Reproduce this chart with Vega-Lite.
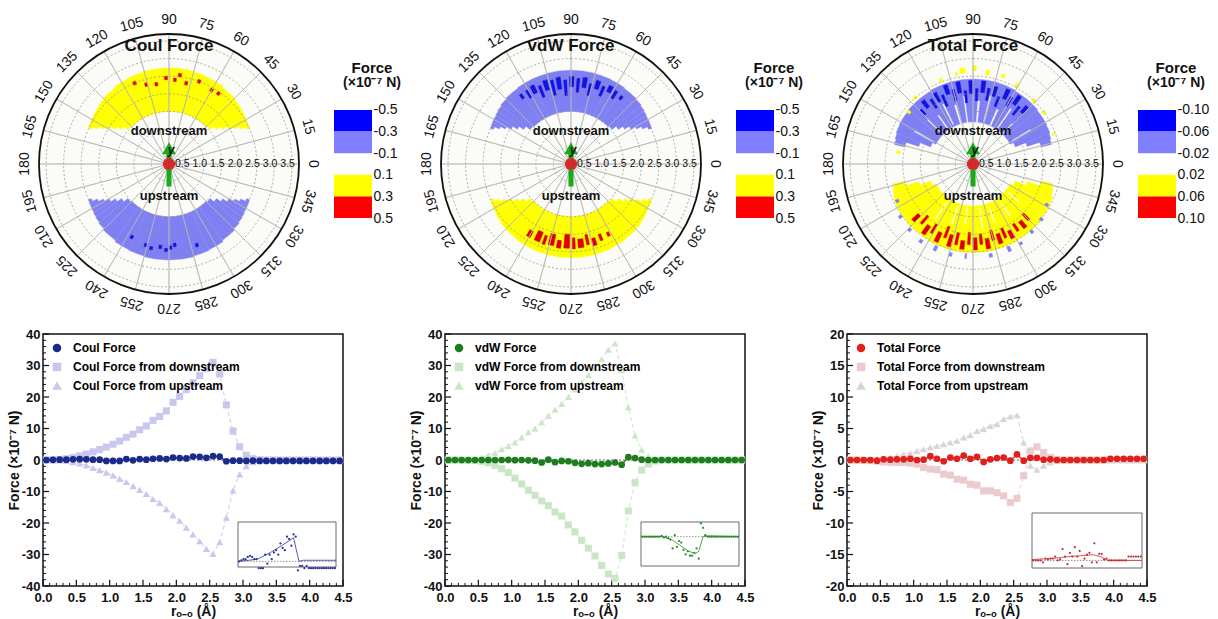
{
"$schema":"https://vega.github.io/schema/vega-lite/v6.json",
"padding":{"left":6,"top":9,"right":2,"bottom":1},
"background":"white",
"config":{"font":"Liberation Sans","view":{"stroke":null},"axis":{"labelFont":"Liberation Sans","titleFont":"Liberation Sans","labelColor":"#111","titleColor":"#111","tickColor":"#111","grid":false,"domain":false},"legend":{"labelFont":"Liberation Sans"},"text":{"font":"Liberation Sans","color":"#111"}},
"datasets":{
"rings":[{"r":0.5},{"r":1},{"r":1.5},{"r":2},{"r":2.5},{"r":3},{"r":3.5}],
"spokes":[{"a":0},{"a":15},{"a":30},{"a":45},{"a":60},{"a":75},{"a":90},{"a":105},{"a":120},{"a":135},{"a":150},{"a":165},{"a":180},{"a":195},{"a":210},{"a":225},{"a":240},{"a":255},{"a":270},{"a":285},{"a":300},{"a":315},{"a":330},{"a":345}],
"rlab":[{"r":0.5,"l":"0.5"},{"r":1,"l":"1.0"},{"r":1.5,"l":"1.5"},{"r":2,"l":"2.0"},{"r":2.5,"l":"2.5"},{"r":3,"l":"3.0"},{"r":3.5,"l":"3.5"}],
"xmaj":[{"v":0},{"v":0.5},{"v":1},{"v":1.5},{"v":2},{"v":2.5},{"v":3},{"v":3.5},{"v":4},{"v":4.5}],
"xmin":[{"v":0.1},{"v":0.2},{"v":0.3},{"v":0.4},{"v":0.6},{"v":0.7},{"v":0.8},{"v":0.9},{"v":1.1},{"v":1.2},{"v":1.3},{"v":1.4},{"v":1.6},{"v":1.7},{"v":1.8},{"v":1.9},{"v":2.1},{"v":2.2},{"v":2.3},{"v":2.4},{"v":2.6},{"v":2.7},{"v":2.8},{"v":2.9},{"v":3.1},{"v":3.2},{"v":3.3},{"v":3.4},{"v":3.6},{"v":3.7},{"v":3.8},{"v":3.9},{"v":4.1},{"v":4.2},{"v":4.3},{"v":4.4}],
"ymaj40":[{"v":-40},{"v":-30},{"v":-20},{"v":-10},{"v":0},{"v":10},{"v":20},{"v":30},{"v":40}],
"ymin40":[{"v":-38},{"v":-36},{"v":-34},{"v":-32},{"v":-28},{"v":-26},{"v":-24},{"v":-22},{"v":-18},{"v":-16},{"v":-14},{"v":-12},{"v":-8},{"v":-6},{"v":-4},{"v":-2},{"v":2},{"v":4},{"v":6},{"v":8},{"v":12},{"v":14},{"v":16},{"v":18},{"v":22},{"v":24},{"v":26},{"v":28},{"v":32},{"v":34},{"v":36},{"v":38}],
"ymaj20":[{"v":-20},{"v":-15},{"v":-10},{"v":-5},{"v":0},{"v":5},{"v":10},{"v":15},{"v":20}],
"ymin20":[{"v":-19},{"v":-18},{"v":-17},{"v":-16},{"v":-14},{"v":-13},{"v":-12},{"v":-11},{"v":-9},{"v":-8},{"v":-7},{"v":-6},{"v":-4},{"v":-3},{"v":-2},{"v":-1},{"v":1},{"v":2},{"v":3},{"v":4},{"v":6},{"v":7},{"v":8},{"v":9},{"v":11},{"v":12},{"v":13},{"v":14},{"v":16},{"v":17},{"v":18},{"v":19}],
"cells":[
{"p":"C","t1":24,"t2":26,"r1":2.42,"r2":2.51,"lv":1},{"p":"C","t1":26,"t2":28,"r1":2.27,"r2":2.52,"lv":1},{"p":"C","t1":28,"t2":30,"r1":2.12,"r2":2.53,"lv":1},{"p":"C","t1":30,"t2":33,"r1":1.97,"r2":2.54,"lv":1},{"p":"C","t1":33,"t2":36,"r1":1.82,"r2":2.56,"lv":1},{"p":"C","t1":36,"t2":40,"r1":1.67,"r2":2.58,"lv":1},{"p":"C","t1":40,"t2":45,"r1":1.53,"r2":2.61,"lv":1},{"p":"C","t1":45,"t2":55,"r1":1.5,"r2":2.65,"lv":1},{"p":"C","t1":55,"t2":65,"r1":1.5,"r2":2.69,"lv":1},{"p":"C","t1":65,"t2":75,"r1":1.5,"r2":2.71,"lv":1},{"p":"C","t1":75,"t2":105,"r1":1.5,"r2":2.73,"lv":1},{"p":"C","t1":105,"t2":115,"r1":1.5,"r2":2.71,"lv":1},{"p":"C","t1":115,"t2":125,"r1":1.5,"r2":2.69,"lv":1},{"p":"C","t1":125,"t2":135,"r1":1.5,"r2":2.65,"lv":1},{"p":"C","t1":135,"t2":140,"r1":1.53,"r2":2.61,"lv":1},{"p":"C","t1":140,"t2":144,"r1":1.67,"r2":2.58,"lv":1},{"p":"C","t1":144,"t2":147,"r1":1.82,"r2":2.56,"lv":1},{"p":"C","t1":147,"t2":150,"r1":1.97,"r2":2.54,"lv":1},{"p":"C","t1":150,"t2":152,"r1":2.12,"r2":2.53,"lv":1},{"p":"C","t1":152,"t2":154,"r1":2.27,"r2":2.52,"lv":1},{"p":"C","t1":154,"t2":156,"r1":2.42,"r2":2.51,"lv":1},
{"p":"C","t1":334,"t2":336,"r1":2.42,"r2":2.51,"lv":-1},{"p":"C","t1":332,"t2":334,"r1":2.27,"r2":2.52,"lv":-1},{"p":"C","t1":330,"t2":332,"r1":2.12,"r2":2.53,"lv":-1},{"p":"C","t1":327,"t2":330,"r1":1.97,"r2":2.54,"lv":-1},{"p":"C","t1":324,"t2":327,"r1":1.82,"r2":2.56,"lv":-1},{"p":"C","t1":320,"t2":324,"r1":1.67,"r2":2.58,"lv":-1},{"p":"C","t1":315,"t2":320,"r1":1.53,"r2":2.61,"lv":-1},{"p":"C","t1":305,"t2":315,"r1":1.5,"r2":2.65,"lv":-1},{"p":"C","t1":295,"t2":305,"r1":1.5,"r2":2.69,"lv":-1},{"p":"C","t1":285,"t2":295,"r1":1.5,"r2":2.71,"lv":-1},{"p":"C","t1":255,"t2":285,"r1":1.5,"r2":2.73,"lv":-1},{"p":"C","t1":245,"t2":255,"r1":1.5,"r2":2.71,"lv":-1},{"p":"C","t1":235,"t2":245,"r1":1.5,"r2":2.69,"lv":-1},{"p":"C","t1":225,"t2":235,"r1":1.5,"r2":2.65,"lv":-1},{"p":"C","t1":220,"t2":225,"r1":1.53,"r2":2.61,"lv":-1},{"p":"C","t1":216,"t2":220,"r1":1.67,"r2":2.58,"lv":-1},{"p":"C","t1":213,"t2":216,"r1":1.82,"r2":2.56,"lv":-1},{"p":"C","t1":210,"t2":213,"r1":1.97,"r2":2.54,"lv":-1},{"p":"C","t1":208,"t2":210,"r1":2.12,"r2":2.53,"lv":-1},{"p":"C","t1":206,"t2":208,"r1":2.27,"r2":2.52,"lv":-1},{"p":"C","t1":204,"t2":206,"r1":2.42,"r2":2.51,"lv":-1},
{"p":"C","t1":105,"t2":107,"r1":2.3,"r2":2.4,"lv":2},{"p":"C","t1":98,"t2":100,"r1":2.25,"r2":2.35,"lv":2},{"p":"C","t1":91,"t2":93,"r1":2.4,"r2":2.5,"lv":2},{"p":"C","t1":85,"t2":87,"r1":2.35,"r2":2.45,"lv":2},{"p":"C","t1":77,"t2":79,"r1":2.3,"r2":2.4,"lv":2},{"p":"C","t1":69,"t2":71,"r1":2.45,"r2":2.55,"lv":2},{"p":"C","t1":59,"t2":61,"r1":2.38,"r2":2.48,"lv":2},{"p":"C","t1":54,"t2":56,"r1":2.4,"r2":2.5,"lv":2},{"p":"C","t1":112,"t2":114,"r1":2.45,"r2":2.55,"lv":2},{"p":"C","t1":82,"t2":84,"r1":2.5,"r2":2.6,"lv":2},
{"p":"C","t1":242,"t2":244,"r1":2.28,"r2":2.38,"lv":-2},{"p":"C","t1":253,"t2":255,"r1":2.35,"r2":2.45,"lv":-2},{"p":"C","t1":257,"t2":259,"r1":2.4,"r2":2.5,"lv":-2},{"p":"C","t1":263,"t2":265,"r1":2.32,"r2":2.42,"lv":-2},{"p":"C","t1":267,"t2":269,"r1":2.4,"r2":2.5,"lv":-2},{"p":"C","t1":270,"t2":272,"r1":2.33,"r2":2.43,"lv":-2},{"p":"C","t1":273,"t2":275,"r1":2.26,"r2":2.36,"lv":-2},{"p":"C","t1":288,"t2":290,"r1":2.39,"r2":2.49,"lv":-2},
{"p":"V","t1":24,"t2":26,"r1":2.42,"r2":2.51,"lv":-1},{"p":"V","t1":26,"t2":28,"r1":2.27,"r2":2.52,"lv":-1},{"p":"V","t1":28,"t2":30,"r1":2.12,"r2":2.53,"lv":-1},{"p":"V","t1":30,"t2":33,"r1":1.97,"r2":2.54,"lv":-1},{"p":"V","t1":33,"t2":36,"r1":1.82,"r2":2.56,"lv":-1},{"p":"V","t1":36,"t2":40,"r1":1.67,"r2":2.58,"lv":-1},{"p":"V","t1":40,"t2":45,"r1":1.53,"r2":2.61,"lv":-1},{"p":"V","t1":45,"t2":55,"r1":1.5,"r2":2.63,"lv":-1},{"p":"V","t1":55,"t2":65,"r1":1.5,"r2":2.65,"lv":-1},{"p":"V","t1":65,"t2":75,"r1":1.5,"r2":2.66,"lv":-1},{"p":"V","t1":75,"t2":105,"r1":1.5,"r2":2.67,"lv":-1},{"p":"V","t1":105,"t2":115,"r1":1.5,"r2":2.66,"lv":-1},{"p":"V","t1":115,"t2":125,"r1":1.5,"r2":2.65,"lv":-1},{"p":"V","t1":125,"t2":135,"r1":1.5,"r2":2.63,"lv":-1},{"p":"V","t1":135,"t2":140,"r1":1.53,"r2":2.61,"lv":-1},{"p":"V","t1":140,"t2":144,"r1":1.67,"r2":2.58,"lv":-1},{"p":"V","t1":144,"t2":147,"r1":1.82,"r2":2.56,"lv":-1},{"p":"V","t1":147,"t2":150,"r1":1.97,"r2":2.54,"lv":-1},{"p":"V","t1":150,"t2":152,"r1":2.12,"r2":2.53,"lv":-1},{"p":"V","t1":152,"t2":154,"r1":2.27,"r2":2.52,"lv":-1},{"p":"V","t1":154,"t2":156,"r1":2.42,"r2":2.51,"lv":-1},
{"p":"V","t1":334,"t2":336,"r1":2.42,"r2":2.51,"lv":1},{"p":"V","t1":332,"t2":334,"r1":2.27,"r2":2.52,"lv":1},{"p":"V","t1":330,"t2":332,"r1":2.12,"r2":2.53,"lv":1},{"p":"V","t1":327,"t2":330,"r1":1.97,"r2":2.54,"lv":1},{"p":"V","t1":324,"t2":327,"r1":1.82,"r2":2.56,"lv":1},{"p":"V","t1":320,"t2":324,"r1":1.67,"r2":2.58,"lv":1},{"p":"V","t1":315,"t2":320,"r1":1.53,"r2":2.61,"lv":1},{"p":"V","t1":305,"t2":315,"r1":1.5,"r2":2.63,"lv":1},{"p":"V","t1":295,"t2":305,"r1":1.5,"r2":2.65,"lv":1},{"p":"V","t1":285,"t2":295,"r1":1.5,"r2":2.66,"lv":1},{"p":"V","t1":255,"t2":285,"r1":1.5,"r2":2.67,"lv":1},{"p":"V","t1":245,"t2":255,"r1":1.5,"r2":2.66,"lv":1},{"p":"V","t1":235,"t2":245,"r1":1.5,"r2":2.65,"lv":1},{"p":"V","t1":225,"t2":235,"r1":1.5,"r2":2.63,"lv":1},{"p":"V","t1":220,"t2":225,"r1":1.53,"r2":2.61,"lv":1},{"p":"V","t1":216,"t2":220,"r1":1.67,"r2":2.58,"lv":1},{"p":"V","t1":213,"t2":216,"r1":1.82,"r2":2.56,"lv":1},{"p":"V","t1":210,"t2":213,"r1":1.97,"r2":2.54,"lv":1},{"p":"V","t1":208,"t2":210,"r1":2.12,"r2":2.53,"lv":1},{"p":"V","t1":206,"t2":208,"r1":2.27,"r2":2.52,"lv":1},{"p":"V","t1":204,"t2":206,"r1":2.42,"r2":2.51,"lv":1},
{"p":"V","t1":52,"t2":54,"r1":2.3,"r2":2.42,"lv":-2},{"p":"V","t1":57,"t2":59,"r1":2.2,"r2":2.45,"lv":-2},{"p":"V","t1":61,"t2":64,"r1":2.3,"r2":2.5,"lv":-2},{"p":"V","t1":66,"t2":68,"r1":2.1,"r2":2.4,"lv":-2},{"p":"V","t1":70,"t2":73,"r1":2.25,"r2":2.5,"lv":-2},{"p":"V","t1":75,"t2":77,"r1":2.0,"r2":2.35,"lv":-2},{"p":"V","t1":79,"t2":82,"r1":2.2,"r2":2.5,"lv":-2},{"p":"V","t1":84,"t2":86,"r1":2.05,"r2":2.45,"lv":-2},{"p":"V","t1":88,"t2":91,"r1":2.2,"r2":2.5,"lv":-2},{"p":"V","t1":93,"t2":95,"r1":1.95,"r2":2.4,"lv":-2},{"p":"V","t1":97,"t2":100,"r1":2.15,"r2":2.5,"lv":-2},{"p":"V","t1":102,"t2":104,"r1":2.0,"r2":2.45,"lv":-2},{"p":"V","t1":106,"t2":109,"r1":2.2,"r2":2.5,"lv":-2},{"p":"V","t1":111,"t2":113,"r1":2.05,"r2":2.4,"lv":-2},{"p":"V","t1":115,"t2":118,"r1":2.25,"r2":2.5,"lv":-2},{"p":"V","t1":120,"t2":122,"r1":2.2,"r2":2.45,"lv":-2},{"p":"V","t1":125,"t2":127,"r1":2.3,"r2":2.45,"lv":-2},
{"p":"V","t1":238,"t2":241,"r1":2.2,"r2":2.4,"lv":2},{"p":"V","t1":244,"t2":248,"r1":2.1,"r2":2.4,"lv":2},{"p":"V","t1":250,"t2":252,"r1":2.15,"r2":2.42,"lv":2},{"p":"V","t1":254,"t2":258,"r1":2.05,"r2":2.38,"lv":2},{"p":"V","t1":260,"t2":263,"r1":2.2,"r2":2.42,"lv":2},{"p":"V","t1":265,"t2":269,"r1":2.0,"r2":2.4,"lv":2},{"p":"V","t1":271,"t2":273,"r1":2.1,"r2":2.42,"lv":2},{"p":"V","t1":275,"t2":279,"r1":2.15,"r2":2.4,"lv":2},{"p":"V","t1":281,"t2":283,"r1":2.05,"r2":2.35,"lv":2},{"p":"V","t1":285,"t2":288,"r1":2.2,"r2":2.42,"lv":2},{"p":"V","t1":291,"t2":293,"r1":2.15,"r2":2.35,"lv":2},{"p":"V","t1":297,"t2":299,"r1":2.2,"r2":2.32,"lv":2},
{"p":"T","t1":14,"t2":18,"r1":2.0,"r2":2.3,"lv":-1},{"p":"T","t1":18,"t2":22,"r1":1.62,"r2":2.33,"lv":-1},{"p":"T","t1":22,"t2":28,"r1":1.3,"r2":2.36,"lv":-1},{"p":"T","t1":28,"t2":40,"r1":1.2,"r2":2.38,"lv":-1},{"p":"T","t1":40,"t2":60,"r1":1.2,"r2":2.4,"lv":-1},{"p":"T","t1":60,"t2":120,"r1":1.2,"r2":2.42,"lv":-1},{"p":"T","t1":120,"t2":140,"r1":1.2,"r2":2.4,"lv":-1},{"p":"T","t1":140,"t2":152,"r1":1.2,"r2":2.38,"lv":-1},{"p":"T","t1":152,"t2":158,"r1":1.3,"r2":2.36,"lv":-1},{"p":"T","t1":158,"t2":162,"r1":1.62,"r2":2.33,"lv":-1},{"p":"T","t1":162,"t2":166,"r1":2.0,"r2":2.3,"lv":-1},
{"p":"T","t1":194,"t2":198,"r1":2.0,"r2":2.35,"lv":1},{"p":"T","t1":198,"t2":202,"r1":1.62,"r2":2.4,"lv":1},{"p":"T","t1":202,"t2":208,"r1":1.3,"r2":2.45,"lv":1},{"p":"T","t1":208,"t2":220,"r1":1.2,"r2":2.48,"lv":1},{"p":"T","t1":220,"t2":240,"r1":1.2,"r2":2.5,"lv":1},{"p":"T","t1":240,"t2":300,"r1":1.2,"r2":2.52,"lv":1},{"p":"T","t1":300,"t2":320,"r1":1.2,"r2":2.5,"lv":1},{"p":"T","t1":320,"t2":332,"r1":1.2,"r2":2.48,"lv":1},{"p":"T","t1":332,"t2":338,"r1":1.3,"r2":2.45,"lv":1},{"p":"T","t1":338,"t2":342,"r1":1.62,"r2":2.4,"lv":1},{"p":"T","t1":342,"t2":346,"r1":2.0,"r2":2.35,"lv":1},
{"p":"T","t1":45,"t2":46,"r1":1.2,"r2":1.6,"lv":0},{"p":"T","t1":55,"t2":56,"r1":1.2,"r2":1.9,"lv":0},{"p":"T","t1":65,"t2":66.5,"r1":1.2,"r2":1.7,"lv":0},{"p":"T","t1":75,"t2":76,"r1":1.25,"r2":2.0,"lv":0},{"p":"T","t1":84,"t2":85.5,"r1":1.2,"r2":1.8,"lv":0},{"p":"T","t1":97,"t2":98,"r1":1.2,"r2":1.95,"lv":0},{"p":"T","t1":106,"t2":107.5,"r1":1.2,"r2":1.75,"lv":0},{"p":"T","t1":116,"t2":117,"r1":1.25,"r2":1.9,"lv":0},{"p":"T","t1":125,"t2":126,"r1":1.2,"r2":1.7,"lv":0},{"p":"T","t1":135,"t2":136,"r1":1.3,"r2":1.8,"lv":0},{"p":"T","t1":30,"t2":31,"r1":1.3,"r2":1.9,"lv":0},{"p":"T","t1":150,"t2":151,"r1":1.3,"r2":1.9,"lv":0},
{"p":"T","t1":235,"t2":236,"r1":1.3,"r2":1.9,"lv":0},{"p":"T","t1":250,"t2":251,"r1":1.25,"r2":1.8,"lv":0},{"p":"T","t1":262,"t2":263,"r1":1.25,"r2":1.7,"lv":0},{"p":"T","t1":278,"t2":279,"r1":1.25,"r2":1.85,"lv":0},{"p":"T","t1":290,"t2":291,"r1":1.3,"r2":1.75,"lv":0},{"p":"T","t1":305,"t2":306,"r1":1.3,"r2":1.8,"lv":0},{"p":"T","t1":320,"t2":321,"r1":1.3,"r2":1.7,"lv":0},
{"p":"T","t1":35,"t2":37,"r1":2.45,"r2":2.55,"lv":1},{"p":"T","t1":45,"t2":47,"r1":2.45,"r2":2.55,"lv":1},{"p":"T","t1":60,"t2":62,"r1":2.5,"r2":2.62,"lv":1},{"p":"T","t1":70,"t2":72,"r1":2.6,"r2":2.7,"lv":1},{"p":"T","t1":80,"t2":82,"r1":2.55,"r2":2.7,"lv":1},{"p":"T","t1":88,"t2":90,"r1":2.65,"r2":2.8,"lv":1},{"p":"T","t1":95,"t2":98,"r1":2.6,"r2":2.75,"lv":1},{"p":"T","t1":100,"t2":101,"r1":2.55,"r2":2.65,"lv":1},{"p":"T","t1":110,"t2":112,"r1":2.5,"r2":2.6,"lv":1},{"p":"T","t1":130,"t2":132,"r1":2.45,"r2":2.55,"lv":1},{"p":"T","t1":140,"t2":142,"r1":2.3,"r2":2.4,"lv":1},{"p":"T","t1":20,"t2":21,"r1":2.4,"r2":2.5,"lv":1},{"p":"T","t1":170,"t2":172,"r1":2.1,"r2":2.2,"lv":1},
{"p":"T","t1":215,"t2":217,"r1":2.5,"r2":2.6,"lv":-1},{"p":"T","t1":225,"t2":227,"r1":2.55,"r2":2.65,"lv":-1},{"p":"T","t1":235,"t2":237,"r1":2.6,"r2":2.7,"lv":-1},{"p":"T","t1":245,"t2":247,"r1":2.55,"r2":2.7,"lv":-1},{"p":"T","t1":255,"t2":257,"r1":2.6,"r2":2.7,"lv":-1},{"p":"T","t1":265,"t2":266,"r1":2.55,"r2":2.7,"lv":-1},{"p":"T","t1":280,"t2":282,"r1":2.6,"r2":2.7,"lv":-1},{"p":"T","t1":292,"t2":294,"r1":2.55,"r2":2.7,"lv":-1},{"p":"T","t1":300,"t2":302,"r1":2.6,"r2":2.68,"lv":-1},{"p":"T","t1":310,"t2":312,"r1":2.5,"r2":2.6,"lv":-1},{"p":"T","t1":320,"t2":322,"r1":2.45,"r2":2.55,"lv":-1},{"p":"T","t1":330,"t2":332,"r1":2.35,"r2":2.45,"lv":-1},{"p":"T","t1":205,"t2":207,"r1":2.35,"r2":2.45,"lv":-1},
{"p":"T","t1":45,"t2":48,"r1":2.0,"r2":2.25,"lv":-2},{"p":"T","t1":50,"t2":52,"r1":1.8,"r2":2.1,"lv":-2},{"p":"T","t1":54,"t2":57,"r1":2.05,"r2":2.35,"lv":-2},{"p":"T","t1":59,"t2":61,"r1":1.9,"r2":2.2,"lv":-2},{"p":"T","t1":63,"t2":66,"r1":2.05,"r2":2.35,"lv":-2},{"p":"T","t1":68,"t2":70,"r1":1.75,"r2":2.05,"lv":-2},{"p":"T","t1":72,"t2":75,"r1":2.0,"r2":2.3,"lv":-2},{"p":"T","t1":77,"t2":79,"r1":1.85,"r2":2.2,"lv":-2},{"p":"T","t1":81,"t2":84,"r1":2.05,"r2":2.38,"lv":-2},{"p":"T","t1":86,"t2":88,"r1":1.8,"r2":2.15,"lv":-2},{"p":"T","t1":90,"t2":93,"r1":2.0,"r2":2.38,"lv":-2},{"p":"T","t1":95,"t2":97,"r1":1.75,"r2":2.1,"lv":-2},{"p":"T","t1":99,"t2":102,"r1":2.05,"r2":2.38,"lv":-2},{"p":"T","t1":104,"t2":106,"r1":1.85,"r2":2.2,"lv":-2},{"p":"T","t1":108,"t2":111,"r1":2.1,"r2":2.38,"lv":-2},{"p":"T","t1":113,"t2":115,"r1":1.8,"r2":2.15,"lv":-2},{"p":"T","t1":117,"t2":120,"r1":2.0,"r2":2.3,"lv":-2},{"p":"T","t1":122,"t2":124,"r1":1.9,"r2":2.2,"lv":-2},{"p":"T","t1":127,"t2":130,"r1":2.05,"r2":2.3,"lv":-2},{"p":"T","t1":133,"t2":135,"r1":1.95,"r2":2.15,"lv":-2},
{"p":"T","t1":222,"t2":225,"r1":2.1,"r2":2.35,"lv":2},{"p":"T","t1":228,"t2":230,"r1":1.95,"r2":2.25,"lv":2},{"p":"T","t1":233,"t2":236,"r1":2.15,"r2":2.45,"lv":2},{"p":"T","t1":238,"t2":240,"r1":2.0,"r2":2.3,"lv":2},{"p":"T","t1":243,"t2":246,"r1":2.15,"r2":2.45,"lv":2},{"p":"T","t1":248,"t2":250,"r1":1.9,"r2":2.25,"lv":2},{"p":"T","t1":252,"t2":255,"r1":2.1,"r2":2.45,"lv":2},{"p":"T","t1":257,"t2":259,"r1":2.0,"r2":2.35,"lv":2},{"p":"T","t1":261,"t2":264,"r1":2.2,"r2":2.45,"lv":2},{"p":"T","t1":266,"t2":268,"r1":1.95,"r2":2.3,"lv":2},{"p":"T","t1":270,"t2":273,"r1":2.1,"r2":2.45,"lv":2},{"p":"T","t1":275,"t2":277,"r1":2.0,"r2":2.3,"lv":2},{"p":"T","t1":279,"t2":282,"r1":2.15,"r2":2.45,"lv":2},{"p":"T","t1":284,"t2":286,"r1":1.95,"r2":2.25,"lv":2},{"p":"T","t1":288,"t2":291,"r1":2.1,"r2":2.4,"lv":2},{"p":"T","t1":293,"t2":295,"r1":2.0,"r2":2.3,"lv":2},{"p":"T","t1":297,"t2":300,"r1":2.15,"r2":2.4,"lv":2},{"p":"T","t1":303,"t2":305,"r1":2.05,"r2":2.3,"lv":2},{"p":"T","t1":308,"t2":311,"r1":2.1,"r2":2.35,"lv":2},{"p":"T","t1":314,"t2":316,"r1":2.0,"r2":2.25,"lv":2}
],
"coul":[{"x":0.05,"m":0,"d":0,"u":0},{"x":0.15,"m":0.05,"d":0.05,"u":-0.05},{"x":0.25,"m":0.1,"d":0.15,"u":-0.1},{"x":0.35,"m":0.1,"d":0.4,"u":-0.3},{"x":0.45,"m":0.2,"d":0.8,"u":-0.7},{"x":0.55,"m":0.25,"d":1.3,"u":-1.1},{"x":0.65,"m":0.2,"d":1.9,"u":-1.7},{"x":0.75,"m":0.1,"d":2.6,"u":-2.5},{"x":0.85,"m":0.1,"d":3.3,"u":-3.2},{"x":0.95,"m":-0.3,"d":4.1,"u":-4.0},{"x":1.05,"m":-0.3,"d":5.0,"u":-4.9},{"x":1.15,"m":-0.3,"d":6.0,"u":-6.0},{"x":1.25,"m":0.3,"d":7.2,"u":-7.0},{"x":1.35,"m":-0.1,"d":8.2,"u":-8.3},{"x":1.45,"m":0.3,"d":9.6,"u":-9.5},{"x":1.55,"m":0.1,"d":10.8,"u":-10.8},{"x":1.65,"m":0.4,"d":12.6,"u":-12.4},{"x":1.75,"m":0.5,"d":13.8,"u":-13.6},{"x":1.85,"m":0.3,"d":15.6,"u":-15.6},{"x":1.95,"m":0.8,"d":18.3,"u":-17.5},{"x":2.05,"m":0.6,"d":20.2,"u":-19.3},{"x":2.15,"m":0.5,"d":22.4,"u":-21.5},{"x":2.25,"m":1.1,"d":24.5,"u":-23.6},{"x":2.35,"m":1.0,"d":26.8,"u":-25.8},{"x":2.45,"m":0.7,"d":29.0,"u":-28.2},{"x":2.55,"m":1.2,"d":31.0,"u":-29.8},{"x":2.65,"m":1.1,"d":27.3,"u":-26.1},{"x":2.75,"m":-0.4,"d":17.5,"u":-18.3},{"x":2.85,"m":-0.2,"d":9.2,"u":-9.7},{"x":2.95,"m":-0.2,"d":4.2,"u":-4.6},{"x":3.05,"m":-0.3,"d":1.5,"u":-2.0},{"x":3.15,"m":-0.2,"d":0.4,"u":-0.7},{"x":3.25,"m":-0.3,"d":0.1,"u":-0.2},{"x":3.35,"m":-0.3,"d":0,"u":0},{"x":3.45,"m":-0.3,"d":0,"u":0},{"x":3.55,"m":-0.3,"d":0,"u":0},{"x":3.65,"m":-0.3,"d":0,"u":0},{"x":3.75,"m":-0.3,"d":0,"u":0},{"x":3.85,"m":-0.3,"d":0,"u":0},{"x":3.95,"m":-0.3,"d":0,"u":0},{"x":4.05,"m":-0.3,"d":0,"u":0},{"x":4.15,"m":-0.3,"d":0,"u":0},{"x":4.25,"m":-0.3,"d":0,"u":0},{"x":4.35,"m":-0.3,"d":0,"u":0},{"x":4.45,"m":-0.3,"d":0,"u":0}],
"vdw":[{"x":0.05,"m":0,"d":0,"u":0},{"x":0.15,"m":0,"d":0,"u":0},{"x":0.25,"m":0,"d":-0.05,"u":0.05},{"x":0.35,"m":0,"d":-0.1,"u":0.1},{"x":0.45,"m":0,"d":-0.2,"u":0.3},{"x":0.55,"m":0,"d":-0.4,"u":0.8},{"x":0.65,"m":0,"d":-0.9,"u":1.5},{"x":0.75,"m":0,"d":-1.7,"u":2.2},{"x":0.85,"m":0,"d":-2.8,"u":3.4},{"x":0.95,"m":0.05,"d":-4.0,"u":4.4},{"x":1.05,"m":-0.05,"d":-5.8,"u":5.6},{"x":1.15,"m":0,"d":-7.6,"u":7.2},{"x":1.25,"m":-0.1,"d":-9.6,"u":8.8},{"x":1.35,"m":-0.2,"d":-11.2,"u":10.0},{"x":1.45,"m":-0.8,"d":-13.0,"u":12.0},{"x":1.55,"m":0.1,"d":-14.5,"u":14.0},{"x":1.65,"m":-0.7,"d":-16.5,"u":16.0},{"x":1.75,"m":-0.3,"d":-17.8,"u":17.8},{"x":1.85,"m":-0.4,"d":-20.6,"u":20.0},{"x":1.95,"m":-0.9,"d":-22.8,"u":22.4},{"x":2.05,"m":-1.2,"d":-25.5,"u":24.6},{"x":2.15,"m":-1.0,"d":-28.0,"u":26.9},{"x":2.25,"m":-1.3,"d":-30.5,"u":29.2},{"x":2.35,"m":-1.3,"d":-33.5,"u":32.0},{"x":2.45,"m":-1.1,"d":-36.2,"u":35.0},{"x":2.55,"m":-0.8,"d":-37.6,"u":37.0},{"x":2.65,"m":-1.5,"d":-30.3,"u":28.5},{"x":2.75,"m":0.9,"d":-16.2,"u":16.8},{"x":2.85,"m":0.6,"d":-7.2,"u":7.8},{"x":2.95,"m":0.1,"d":-3.2,"u":3.2},{"x":3.05,"m":0,"d":-1.3,"u":1.2},{"x":3.15,"m":0,"d":-0.3,"u":0.3},{"x":3.25,"m":0,"d":0,"u":0},{"x":3.35,"m":0,"d":0,"u":0},{"x":3.45,"m":0,"d":0,"u":0},{"x":3.55,"m":0,"d":0,"u":0},{"x":3.65,"m":0,"d":0,"u":0},{"x":3.75,"m":0,"d":0,"u":0},{"x":3.85,"m":0,"d":0,"u":0},{"x":3.95,"m":0,"d":0,"u":0},{"x":4.05,"m":0,"d":0,"u":0},{"x":4.15,"m":0,"d":0,"u":0},{"x":4.25,"m":0,"d":0,"u":0},{"x":4.35,"m":0,"d":0,"u":0},{"x":4.45,"m":0,"d":0,"u":0}],
"tot":[{"x":0.05,"m":0,"d":0,"u":0},{"x":0.15,"m":0,"d":0,"u":0},{"x":0.25,"m":0,"d":-0.05,"u":0.05},{"x":0.35,"m":0,"d":-0.1,"u":0.1},{"x":0.45,"m":-0.1,"d":-0.2,"u":0.2},{"x":0.55,"m":0.1,"d":-0.3,"u":0.3},{"x":0.65,"m":0.05,"d":-0.35,"u":0.4},{"x":0.75,"m":0.1,"d":-0.4,"u":0.65},{"x":0.85,"m":0.1,"d":-0.4,"u":0.9},{"x":0.95,"m":0.2,"d":-0.5,"u":1.1},{"x":1.05,"m":0,"d":-0.65,"u":1.4},{"x":1.15,"m":0.05,"d":-1.2,"u":1.7},{"x":1.25,"m":0.6,"d":-1.45,"u":2.0},{"x":1.35,"m":0.2,"d":-1.55,"u":2.25},{"x":1.45,"m":-0.2,"d":-2.25,"u":2.5},{"x":1.55,"m":0.4,"d":-2.4,"u":2.8},{"x":1.65,"m":0.2,"d":-3.05,"u":3.05},{"x":1.75,"m":0.7,"d":-3.2,"u":3.6},{"x":1.85,"m":0.2,"d":-3.85,"u":3.95},{"x":1.95,"m":0.5,"d":-4.0,"u":4.6},{"x":2.05,"m":-0.3,"d":-4.9,"u":4.9},{"x":2.15,"m":0.1,"d":-4.9,"u":5.4},{"x":2.25,"m":0.3,"d":-5.2,"u":5.7},{"x":2.35,"m":0.4,"d":-5.7,"u":6.5},{"x":2.45,"m":-0.1,"d":-6.75,"u":6.9},{"x":2.55,"m":0.9,"d":-6.1,"u":7.1},{"x":2.65,"m":-0.1,"d":-2.5,"u":2.8},{"x":2.75,"m":0.35,"d":1.45,"u":-0.9},{"x":2.85,"m":0.35,"d":2.1,"u":-1.55},{"x":2.95,"m":0.05,"d":1.2,"u":-0.9},{"x":3.05,"m":0.1,"d":0.4,"u":-0.4},{"x":3.15,"m":0,"d":0.1,"u":-0.1},{"x":3.25,"m":0,"d":0,"u":0},{"x":3.35,"m":0,"d":0,"u":0},{"x":3.45,"m":0,"d":0,"u":0},{"x":3.55,"m":0,"d":0,"u":0},{"x":3.65,"m":0,"d":0,"u":0},{"x":3.75,"m":0,"d":0,"u":0},{"x":3.85,"m":0,"d":0,"u":0},{"x":3.95,"m":0.2,"d":0,"u":0},{"x":4.05,"m":0.2,"d":0,"u":0},{"x":4.15,"m":0.2,"d":0,"u":0},{"x":4.25,"m":0.2,"d":0,"u":0},{"x":4.35,"m":0.2,"d":0,"u":0},{"x":4.45,"m":0.2,"d":0,"u":0}],
"tc":[{"x":0,"y":0},{"x":0.5,"y":0.05},{"x":0.9,"y":0.1},{"x":1.5,"y":0.4},{"x":2.0,"y":0.7},{"x":2.55,"y":1.05},{"x":2.8,"y":0.0},{"x":3.0,"y":0.05},{"x":4.5,"y":0.05}],
"tv":[{"x":0,"y":0},{"x":1.0,"y":0},{"x":1.4,"y":-0.2},{"x":1.8,"y":-0.6},{"x":2.2,"y":-1.0},{"x":2.5,"y":-1.15},{"x":2.65,"y":-1.0},{"x":2.85,"y":0.0},{"x":3.0,"y":0.05},{"x":4.5,"y":0}],
"tt":[{"x":0,"y":0.05},{"x":0.8,"y":0.1},{"x":1.5,"y":0.2},{"x":2.0,"y":0.25},{"x":2.5,"y":0.3},{"x":2.8,"y":0.2},{"x":3.1,"y":0.0},{"x":4.5,"y":0.0}]
},
"vconcat":[
{"hconcat":[
  {"width":310,"height":310,"view":{"stroke":null},"layer":[
   {"data":{"values":[{"r":3.7}]},"mark":{"type":"arc","theta":0,"theta2":6.2832,"color":"#fbfbf7"},"encoding":{"radius":{"field":"r","type":"quantitative","stack":null,"scale":{"type":"linear","domain":[0,4.4115],"range":[0,155],"nice":false,"zero":true}}}},
   {"data":{"name":"cells"},"transform":[{"filter":"datum.p==='C'"}],"mark":{"type":"arc","strokeWidth":0.4},"encoding":{"theta":{"field":"t1","type":"quantitative","stack":null,"scale":{"domain":[0,360],"range":[1.5708,-4.7124],"nice":false,"zero":false}},"theta2":{"field":"t2"},"radius":{"field":"r2","type":"quantitative","stack":null},"radius2":{"field":"r1"},"color":{"field":"lv","type":"nominal","scale":{"domain":[-2,-1,0,1,2],"range":["#1414e0","#8080f5","#fbfbf7","#ffff00","#e00000"]},"legend":null},"stroke":{"field":"lv","type":"nominal","scale":{"domain":[-2,-1,0,1,2],"range":["#1414e0","#8080f5","#fbfbf7","#ffff00","#e00000"]},"legend":null}}},
   {"data":{"name":"rings"},"mark":{"type":"arc","theta":0,"theta2":6.2832,"filled":false,"stroke":"#8a8a8a","strokeWidth":0.7,"strokeDash":[2,2]},"encoding":{"radius":{"field":"r","type":"quantitative","stack":null}}},
   {"data":{"name":"spokes"},"mark":{"type":"arc","filled":false,"stroke":"#b5b5b5","strokeWidth":0.7},"encoding":{"theta":{"field":"a","type":"quantitative","stack":null},"theta2":{"field":"a"},"radius":{"datum":3.7,"type":"quantitative"}}},
   {"data":{"values":[{"r":3.7}]},"mark":{"type":"arc","theta":0,"theta2":6.2832,"filled":false,"stroke":"#111","strokeWidth":1.8},"encoding":{"radius":{"field":"r","type":"quantitative","stack":null}}},
   {"data":{"name":"spokes"},"mark":{"type":"text","fontSize":14,"align":"center","baseline":"middle"},"encoding":{"theta":{"field":"a","type":"quantitative"},"radius":{"datum":4.1,"type":"quantitative"},"text":{"field":"a","type":"nominal"},"angle":{"field":"a","type":"quantitative","scale":{"domain":[0,360],"range":[90,-270]}}}},
   {"data":{"name":"rlab"},"mark":{"type":"text","fontSize":10.5,"align":"right","baseline":"middle","dx":3},"encoding":{"x":{"field":"r","type":"quantitative","scale":{"domain":[-4.4115,4.4115],"nice":false,"zero":false},"axis":null},"y":{"datum":0,"type":"quantitative","scale":{"domain":[-4.4115,4.4115],"nice":false,"zero":false},"axis":null},"text":{"field":"l"}}},
   {"data":{"values":[{}]},"mark":{"type":"text","text":"Coul Force","fontSize":17,"fontWeight":"bold"},"encoding":{"x":{"datum":0,"type":"quantitative"},"y":{"datum":3.35,"type":"quantitative"}}},
   {"data":{"values":[{}]},"mark":{"type":"text","text":"downstream","fontSize":13,"fontWeight":"bold"},"encoding":{"x":{"datum":0,"type":"quantitative"},"y":{"datum":0.95,"type":"quantitative"}}},
   {"data":{"values":[{}]},"mark":{"type":"text","text":"upstream","fontSize":13,"fontWeight":"bold"},"encoding":{"x":{"datum":0,"type":"quantitative"},"y":{"datum":-0.9,"type":"quantitative"}}},
   {"data":{"values":[{}]},"mark":{"type":"rule","color":"#1aaa1a","strokeWidth":5},"encoding":{"x":{"datum":0,"type":"quantitative"},"y":{"datum":-0.64,"type":"quantitative"},"y2":{"datum":0.3}}},
   {"data":{"values":[{}]},"mark":{"type":"point","shape":"triangle-up","filled":true,"color":"#1aaa1a","size":190,"opacity":1},"encoding":{"x":{"datum":0,"type":"quantitative"},"y":{"datum":0.45,"type":"quantitative"}}},
   {"data":{"values":[{}]},"mark":{"type":"point","shape":"circle","filled":true,"color":"#d42a2a","size":150,"opacity":1},"encoding":{"x":{"datum":0,"type":"quantitative"},"y":{"datum":0,"type":"quantitative"}}},
   {"data":{"values":[{}]},"mark":{"type":"text","text":"y","fontSize":12,"fontStyle":"italic","fontWeight":"bold"},"encoding":{"x":{"datum":0.06,"type":"quantitative"},"y":{"datum":0.4,"type":"quantitative"}}}
  ]},
  {"width":38,"height":310,"view":{"stroke":null},"layer":[
   {"data":{"values":[{"lo":-0.5,"hi":-0.3,"lv":-2},{"lo":-0.3,"hi":-0.1,"lv":-1},{"lo":0.1,"hi":0.3,"lv":1},{"lo":0.3,"hi":0.5,"lv":2}]},"mark":{"type":"rect"},"encoding":{"x":{"datum":0,"type":"quantitative","scale":{"domain":[0,1],"nice":false,"zero":false},"axis":null},"x2":{"datum":1},"y":{"field":"lo","type":"quantitative","scale":{"domain":[-1.435,1.435],"reverse":true,"nice":false,"zero":false},"axis":{"orient":"right","values":[-0.5,-0.3,-0.1,0.1,0.3,0.5],"labelExpr":"datum.value < 0 ? '-' + format(abs(datum.value), '.1f') : format(datum.value, '.1f')","ticks":false,"domain":false,"grid":false,"title":null,"labelFontSize":14,"labelPadding":1}},"y2":{"field":"hi"},"color":{"field":"lv","type":"nominal","scale":{"domain":[-2,-1,1,2],"range":["#0000ff","#7f7fff","#ffff00","#ff0000"]},"legend":null}}},
   {"data":{"values":[{}]},"mark":{"type":"text","text":"Force","fontSize":15,"fontWeight":"bold"},"encoding":{"x":{"datum":1,"type":"quantitative"},"y":{"datum":-0.89,"type":"quantitative"}}},
   {"data":{"values":[{}]},"mark":{"type":"text","text":"(×10⁻⁷ N)","fontSize":14,"fontWeight":"bold"},"encoding":{"x":{"datum":1,"type":"quantitative"},"y":{"datum":-0.75,"type":"quantitative"}}}
  ]},
  {"width":24,"height":310,"data":{"values":[{}]},"mark":{"type":"point","opacity":0},"encoding":{}},
  {"width":310,"height":310,"view":{"stroke":null},"layer":[
   {"data":{"values":[{"r":3.7}]},"mark":{"type":"arc","theta":0,"theta2":6.2832,"color":"#fbfbf7"},"encoding":{"radius":{"field":"r","type":"quantitative","stack":null,"scale":{"type":"linear","domain":[0,4.4115],"range":[0,155],"nice":false,"zero":true}}}},
   {"data":{"name":"cells"},"transform":[{"filter":"datum.p==='V'"}],"mark":{"type":"arc","strokeWidth":0.4},"encoding":{"theta":{"field":"t1","type":"quantitative","stack":null,"scale":{"domain":[0,360],"range":[1.5708,-4.7124],"nice":false,"zero":false}},"theta2":{"field":"t2"},"radius":{"field":"r2","type":"quantitative","stack":null},"radius2":{"field":"r1"},"color":{"field":"lv","type":"nominal","scale":{"domain":[-2,-1,0,1,2],"range":["#1414e0","#8080f5","#fbfbf7","#ffff00","#e00000"]},"legend":null},"stroke":{"field":"lv","type":"nominal","scale":{"domain":[-2,-1,0,1,2],"range":["#1414e0","#8080f5","#fbfbf7","#ffff00","#e00000"]},"legend":null}}},
   {"data":{"name":"rings"},"mark":{"type":"arc","theta":0,"theta2":6.2832,"filled":false,"stroke":"#8a8a8a","strokeWidth":0.7,"strokeDash":[2,2]},"encoding":{"radius":{"field":"r","type":"quantitative","stack":null}}},
   {"data":{"name":"spokes"},"mark":{"type":"arc","filled":false,"stroke":"#b5b5b5","strokeWidth":0.7},"encoding":{"theta":{"field":"a","type":"quantitative","stack":null},"theta2":{"field":"a"},"radius":{"datum":3.7,"type":"quantitative"}}},
   {"data":{"values":[{"r":3.7}]},"mark":{"type":"arc","theta":0,"theta2":6.2832,"filled":false,"stroke":"#111","strokeWidth":1.8},"encoding":{"radius":{"field":"r","type":"quantitative","stack":null}}},
   {"data":{"name":"spokes"},"mark":{"type":"text","fontSize":14,"align":"center","baseline":"middle"},"encoding":{"theta":{"field":"a","type":"quantitative"},"radius":{"datum":4.1,"type":"quantitative"},"text":{"field":"a","type":"nominal"},"angle":{"field":"a","type":"quantitative","scale":{"domain":[0,360],"range":[90,-270]}}}},
   {"data":{"name":"rlab"},"mark":{"type":"text","fontSize":10.5,"align":"right","baseline":"middle","dx":3},"encoding":{"x":{"field":"r","type":"quantitative","scale":{"domain":[-4.4115,4.4115],"nice":false,"zero":false},"axis":null},"y":{"datum":0,"type":"quantitative","scale":{"domain":[-4.4115,4.4115],"nice":false,"zero":false},"axis":null},"text":{"field":"l"}}},
   {"data":{"values":[{}]},"mark":{"type":"text","text":"vdW Force","fontSize":17,"fontWeight":"bold"},"encoding":{"x":{"datum":0,"type":"quantitative"},"y":{"datum":3.35,"type":"quantitative"}}},
   {"data":{"values":[{}]},"mark":{"type":"text","text":"downstream","fontSize":13,"fontWeight":"bold"},"encoding":{"x":{"datum":0,"type":"quantitative"},"y":{"datum":0.95,"type":"quantitative"}}},
   {"data":{"values":[{}]},"mark":{"type":"text","text":"upstream","fontSize":13,"fontWeight":"bold"},"encoding":{"x":{"datum":0,"type":"quantitative"},"y":{"datum":-0.9,"type":"quantitative"}}},
   {"data":{"values":[{}]},"mark":{"type":"rule","color":"#1aaa1a","strokeWidth":5},"encoding":{"x":{"datum":0,"type":"quantitative"},"y":{"datum":-0.64,"type":"quantitative"},"y2":{"datum":0.3}}},
   {"data":{"values":[{}]},"mark":{"type":"point","shape":"triangle-up","filled":true,"color":"#1aaa1a","size":190,"opacity":1},"encoding":{"x":{"datum":0,"type":"quantitative"},"y":{"datum":0.45,"type":"quantitative"}}},
   {"data":{"values":[{}]},"mark":{"type":"point","shape":"circle","filled":true,"color":"#d42a2a","size":150,"opacity":1},"encoding":{"x":{"datum":0,"type":"quantitative"},"y":{"datum":0,"type":"quantitative"}}},
   {"data":{"values":[{}]},"mark":{"type":"text","text":"y","fontSize":12,"fontStyle":"italic","fontWeight":"bold"},"encoding":{"x":{"datum":0.06,"type":"quantitative"},"y":{"datum":0.4,"type":"quantitative"}}}
  ]},
  {"width":38,"height":310,"view":{"stroke":null},"layer":[
   {"data":{"values":[{"lo":-0.5,"hi":-0.3,"lv":-2},{"lo":-0.3,"hi":-0.1,"lv":-1},{"lo":0.1,"hi":0.3,"lv":1},{"lo":0.3,"hi":0.5,"lv":2}]},"mark":{"type":"rect"},"encoding":{"x":{"datum":0,"type":"quantitative","scale":{"domain":[0,1],"nice":false,"zero":false},"axis":null},"x2":{"datum":1},"y":{"field":"lo","type":"quantitative","scale":{"domain":[-1.435,1.435],"reverse":true,"nice":false,"zero":false},"axis":{"orient":"right","values":[-0.5,-0.3,-0.1,0.1,0.3,0.5],"labelExpr":"datum.value < 0 ? '-' + format(abs(datum.value), '.1f') : format(datum.value, '.1f')","ticks":false,"domain":false,"grid":false,"title":null,"labelFontSize":14,"labelPadding":1}},"y2":{"field":"hi"},"color":{"field":"lv","type":"nominal","scale":{"domain":[-2,-1,1,2],"range":["#0000ff","#7f7fff","#ffff00","#ff0000"]},"legend":null}}},
   {"data":{"values":[{}]},"mark":{"type":"text","text":"Force","fontSize":15,"fontWeight":"bold"},"encoding":{"x":{"datum":1,"type":"quantitative"},"y":{"datum":-0.89,"type":"quantitative"}}},
   {"data":{"values":[{}]},"mark":{"type":"text","text":"(×10⁻⁷ N)","fontSize":14,"fontWeight":"bold"},"encoding":{"x":{"datum":1,"type":"quantitative"},"y":{"datum":-0.75,"type":"quantitative"}}}
  ]},
  {"width":24,"height":310,"data":{"values":[{}]},"mark":{"type":"point","opacity":0},"encoding":{}},
  {"width":310,"height":310,"view":{"stroke":null},"layer":[
   {"data":{"values":[{"r":3.7}]},"mark":{"type":"arc","theta":0,"theta2":6.2832,"color":"#fbfbf7"},"encoding":{"radius":{"field":"r","type":"quantitative","stack":null,"scale":{"type":"linear","domain":[0,4.4115],"range":[0,155],"nice":false,"zero":true}}}},
   {"data":{"name":"cells"},"transform":[{"filter":"datum.p==='T'"}],"mark":{"type":"arc","strokeWidth":0.4},"encoding":{"theta":{"field":"t1","type":"quantitative","stack":null,"scale":{"domain":[0,360],"range":[1.5708,-4.7124],"nice":false,"zero":false}},"theta2":{"field":"t2"},"radius":{"field":"r2","type":"quantitative","stack":null},"radius2":{"field":"r1"},"color":{"field":"lv","type":"nominal","scale":{"domain":[-2,-1,0,1,2],"range":["#1414e0","#8080f5","#fbfbf7","#ffff00","#e00000"]},"legend":null},"stroke":{"field":"lv","type":"nominal","scale":{"domain":[-2,-1,0,1,2],"range":["#1414e0","#8080f5","#fbfbf7","#ffff00","#e00000"]},"legend":null}}},
   {"data":{"name":"rings"},"mark":{"type":"arc","theta":0,"theta2":6.2832,"filled":false,"stroke":"#8a8a8a","strokeWidth":0.7,"strokeDash":[2,2]},"encoding":{"radius":{"field":"r","type":"quantitative","stack":null}}},
   {"data":{"name":"spokes"},"mark":{"type":"arc","filled":false,"stroke":"#b5b5b5","strokeWidth":0.7},"encoding":{"theta":{"field":"a","type":"quantitative","stack":null},"theta2":{"field":"a"},"radius":{"datum":3.7,"type":"quantitative"}}},
   {"data":{"values":[{"r":3.7}]},"mark":{"type":"arc","theta":0,"theta2":6.2832,"filled":false,"stroke":"#111","strokeWidth":1.8},"encoding":{"radius":{"field":"r","type":"quantitative","stack":null}}},
   {"data":{"name":"spokes"},"mark":{"type":"text","fontSize":14,"align":"center","baseline":"middle"},"encoding":{"theta":{"field":"a","type":"quantitative"},"radius":{"datum":4.1,"type":"quantitative"},"text":{"field":"a","type":"nominal"},"angle":{"field":"a","type":"quantitative","scale":{"domain":[0,360],"range":[90,-270]}}}},
   {"data":{"name":"rlab"},"mark":{"type":"text","fontSize":10.5,"align":"right","baseline":"middle","dx":3},"encoding":{"x":{"field":"r","type":"quantitative","scale":{"domain":[-4.4115,4.4115],"nice":false,"zero":false},"axis":null},"y":{"datum":0,"type":"quantitative","scale":{"domain":[-4.4115,4.4115],"nice":false,"zero":false},"axis":null},"text":{"field":"l"}}},
   {"data":{"values":[{}]},"mark":{"type":"text","text":"Total Force","fontSize":17,"fontWeight":"bold"},"encoding":{"x":{"datum":0,"type":"quantitative"},"y":{"datum":3.35,"type":"quantitative"}}},
   {"data":{"values":[{}]},"mark":{"type":"text","text":"downstream","fontSize":13,"fontWeight":"bold"},"encoding":{"x":{"datum":0,"type":"quantitative"},"y":{"datum":0.95,"type":"quantitative"}}},
   {"data":{"values":[{}]},"mark":{"type":"text","text":"upstream","fontSize":13,"fontWeight":"bold"},"encoding":{"x":{"datum":0,"type":"quantitative"},"y":{"datum":-0.9,"type":"quantitative"}}},
   {"data":{"values":[{}]},"mark":{"type":"rule","color":"#1aaa1a","strokeWidth":5},"encoding":{"x":{"datum":0,"type":"quantitative"},"y":{"datum":-0.64,"type":"quantitative"},"y2":{"datum":0.3}}},
   {"data":{"values":[{}]},"mark":{"type":"point","shape":"triangle-up","filled":true,"color":"#1aaa1a","size":190,"opacity":1},"encoding":{"x":{"datum":0,"type":"quantitative"},"y":{"datum":0.45,"type":"quantitative"}}},
   {"data":{"values":[{}]},"mark":{"type":"point","shape":"circle","filled":true,"color":"#d42a2a","size":150,"opacity":1},"encoding":{"x":{"datum":0,"type":"quantitative"},"y":{"datum":0,"type":"quantitative"}}},
   {"data":{"values":[{}]},"mark":{"type":"text","text":"y","fontSize":12,"fontStyle":"italic","fontWeight":"bold"},"encoding":{"x":{"datum":0.06,"type":"quantitative"},"y":{"datum":0.4,"type":"quantitative"}}}
  ]},
  {"width":38,"height":310,"view":{"stroke":null},"layer":[
   {"data":{"values":[{"lo":-0.1,"hi":-0.06,"lv":-2},{"lo":-0.06,"hi":-0.02,"lv":-1},{"lo":0.02,"hi":0.06,"lv":1},{"lo":0.06,"hi":0.1,"lv":2}]},"mark":{"type":"rect"},"encoding":{"x":{"datum":0,"type":"quantitative","scale":{"domain":[0,1],"nice":false,"zero":false},"axis":null},"x2":{"datum":1},"y":{"field":"lo","type":"quantitative","scale":{"domain":[-0.287,0.287],"reverse":true,"nice":false,"zero":false},"axis":{"orient":"right","values":[-0.1,-0.06,-0.02,0.02,0.06,0.1],"labelExpr":"datum.value < 0 ? '-' + format(abs(datum.value), '.2f') : format(datum.value, '.2f')","ticks":false,"domain":false,"grid":false,"title":null,"labelFontSize":14,"labelPadding":1}},"y2":{"field":"hi"},"color":{"field":"lv","type":"nominal","scale":{"domain":[-2,-1,1,2],"range":["#0000ff","#7f7fff","#ffff00","#ff0000"]},"legend":null}}},
   {"data":{"values":[{}]},"mark":{"type":"text","text":"Force","fontSize":15,"fontWeight":"bold"},"encoding":{"x":{"datum":1,"type":"quantitative"},"y":{"datum":-0.178,"type":"quantitative"}}},
   {"data":{"values":[{}]},"mark":{"type":"text","text":"(×10⁻⁷ N)","fontSize":14,"fontWeight":"bold"},"encoding":{"x":{"datum":1,"type":"quantitative"},"y":{"datum":-0.15,"type":"quantitative"}}}
  ]}
],"spacing":10,"bounds":"flush","resolve":{"scale":{"color":"independent","stroke":"independent","shape":"independent"}}},
{"hconcat":[
  {"width":1,"height":252,"data":{"values":[{}]},"mark":{"type":"point","opacity":0},"encoding":{}},
  {"width":300,"height":252,"view":{"stroke":"#111","strokeWidth":1.5},"resolve":{"scale":{"x":"independent","y":"independent"},"axis":{"x":"independent","y":"independent"}},"layer":[
   {"layer":[
    {"data":{"values":[{}]},"mark":{"type":"rule","color":"#666","strokeDash":[2,2],"strokeWidth":1},"encoding":{"y":{"datum":0,"type":"quantitative","scale":{"domain":[-40,40],"nice":false,"zero":false},"axis":{"title":"Force (×10⁻⁷ N)","tickCount":8,"labelExpr":"datum.value < 0 ? '-' + abs(datum.value) : '' + datum.value","labelOverlap":false,"ticks":false,"labelPadding":3,"labelFontSize":13,"labelFontWeight":"bold","titleFontSize":14,"titleFontWeight":"bold","titlePadding":0}}}},
    {"data":{"name":"xmaj"},"mark":{"type":"rule","color":"#111","strokeWidth":1.2},"encoding":{"x":{"field":"v","type":"quantitative","title":"rₒ₋ₒ (Å)","scale":{"domain":[0,4.5],"nice":false,"zero":false},"axis":{"title":"rₒ₋ₒ (Å)","tickCount":9,"format":".1f","labelFlush":false,"labelOverlap":false,"ticks":false,"labelPadding":5,"labelFontSize":13,"labelFontWeight":"bold","titleFontSize":14,"titleFontWeight":"bold","titlePadding":0}},"y":{"datum":-40,"type":"quantitative"},"y2":{"datum":-38}}},
    {"data":{"name":"xmin"},"mark":{"type":"rule","color":"#111","strokeWidth":1},"encoding":{"x":{"field":"v","type":"quantitative","title":"rₒ₋ₒ (Å)"},"y":{"datum":-40,"type":"quantitative"},"y2":{"datum":-39}}},
    {"data":{"name":"ymaj40"},"mark":{"type":"rule","color":"#111","strokeWidth":1.2},"encoding":{"y":{"field":"v","type":"quantitative","title":"Force (×10⁻⁷ N)"},"x":{"datum":0,"type":"quantitative"},"x2":{"datum":0.09}}},
    {"data":{"name":"ymin40"},"mark":{"type":"rule","color":"#111","strokeWidth":1},"encoding":{"y":{"field":"v","type":"quantitative","title":"Force (×10⁻⁷ N)"},"x":{"datum":0,"type":"quantitative"},"x2":{"datum":0.045}}},
    {"data":{"name":"coul"},"transform":[{"fold":["m","d","u"],"as":["s","v"]},{"filter":"datum.s !== 'm'"}],"mark":{"type":"line","strokeDash":[4,3],"strokeWidth":1},"encoding":{"x":{"field":"x","type":"quantitative","title":"rₒ₋ₒ (Å)"},"y":{"field":"v","type":"quantitative","title":"Force (×10⁻⁷ N)"},"color":{"field":"s","type":"nominal","scale":{"domain":["m","d","u"],"range":["#1c2a8c","#c8c8ee","#c8c8ee"]},"legend":{"title":null,"orient":"top-left","offset":8,"padding":0,"labelLimit":400,"labelExpr":"datum.label === 'm' ? 'Coul Force' : datum.label === 'd' ? 'Coul Force from downstream' : 'Coul Force from upstream'","labelFontSize":12,"labelFontWeight":"bold","symbolSize":50,"rowPadding":5,"labelOffset":10}}}},
    {"data":{"name":"coul"},"transform":[{"fold":["m","d","u"],"as":["s","v"]},{"filter":"datum.s !== 'm'"}],"mark":{"type":"point","filled":true,"opacity":1,"size":50},"encoding":{"x":{"field":"x","type":"quantitative","title":"rₒ₋ₒ (Å)"},"y":{"field":"v","type":"quantitative","title":"Force (×10⁻⁷ N)"},"color":{"field":"s","type":"nominal"},"shape":{"field":"s","type":"nominal","scale":{"domain":["m","d","u"],"range":["circle","square","triangle-up"]},"legend":{"title":null,"orient":"top-left","offset":8,"padding":0,"labelLimit":400,"labelExpr":"datum.label === 'm' ? 'Coul Force' : datum.label === 'd' ? 'Coul Force from downstream' : 'Coul Force from upstream'","labelFontSize":12,"labelFontWeight":"bold","symbolSize":50,"rowPadding":5,"labelOffset":10}}}},
    {"data":{"name":"coul"},"transform":[{"fold":["m","d","u"],"as":["s","v"]},{"filter":"datum.s === 'm'"}],"mark":{"type":"line","strokeWidth":1.3},"encoding":{"x":{"field":"x","type":"quantitative","title":"rₒ₋ₒ (Å)"},"y":{"field":"v","type":"quantitative","title":"Force (×10⁻⁷ N)"},"color":{"field":"s","type":"nominal"}}},
    {"data":{"name":"coul"},"transform":[{"fold":["m","d","u"],"as":["s","v"]},{"filter":"datum.s === 'm'"}],"mark":{"type":"point","filled":true,"opacity":1,"size":45},"encoding":{"x":{"field":"x","type":"quantitative","title":"rₒ₋ₒ (Å)"},"y":{"field":"v","type":"quantitative","title":"Force (×10⁻⁷ N)"},"color":{"field":"s","type":"nominal"},"shape":{"field":"s","type":"nominal"}}}
   ]},
   {"layer":[
    {"data":{"values":[{}]},"mark":{"type":"rect","fill":"white","stroke":"#444","strokeWidth":0.8},"encoding":{"x":{"datum":0,"type":"quantitative","scale":{"domain":[0,4.5],"range":[195,293],"nice":false,"zero":false},"axis":null},"x2":{"datum":4.5},"y":{"datum":-0.25,"type":"quantitative","scale":{"domain":[-0.25,1.75],"range":[233,188],"nice":false,"zero":false},"axis":null},"y2":{"datum":1.75}}},
    {"data":{"values":[{}]},"mark":{"type":"rule","color":"#666","strokeDash":[1.5,1.5],"strokeWidth":0.7},"encoding":{"x":{"datum":0,"type":"quantitative"},"x2":{"datum":4.5},"y":{"datum":0,"type":"quantitative"}}},
    {"data":{"name":"tc"},"mark":{"type":"line","color":"#2a3399","strokeWidth":0.8},"encoding":{"x":{"field":"x","type":"quantitative"},"y":{"field":"y","type":"quantitative"}}},
    {"data":{"name":"coul"},"mark":{"type":"point","filled":true,"size":5,"color":"#2a3399","opacity":1},"encoding":{"x":{"field":"x","type":"quantitative"},"y":{"field":"m","type":"quantitative"}}}
   ]}
  ]},
  {"width":46,"height":252,"data":{"values":[{}]},"mark":{"type":"point","opacity":0},"encoding":{}},
  {"width":300,"height":252,"view":{"stroke":"#111","strokeWidth":1.5},"resolve":{"scale":{"x":"independent","y":"independent"},"axis":{"x":"independent","y":"independent"}},"layer":[
   {"layer":[
    {"data":{"values":[{}]},"mark":{"type":"rule","color":"#666","strokeDash":[2,2],"strokeWidth":1},"encoding":{"y":{"datum":0,"type":"quantitative","scale":{"domain":[-40,40],"nice":false,"zero":false},"axis":{"title":"Force (×10⁻⁷ N)","tickCount":8,"labelExpr":"datum.value < 0 ? '-' + abs(datum.value) : '' + datum.value","labelOverlap":false,"ticks":false,"labelPadding":3,"labelFontSize":13,"labelFontWeight":"bold","titleFontSize":14,"titleFontWeight":"bold","titlePadding":0}}}},
    {"data":{"name":"xmaj"},"mark":{"type":"rule","color":"#111","strokeWidth":1.2},"encoding":{"x":{"field":"v","type":"quantitative","title":"rₒ₋ₒ (Å)","scale":{"domain":[0,4.5],"nice":false,"zero":false},"axis":{"title":"rₒ₋ₒ (Å)","tickCount":9,"format":".1f","labelFlush":false,"labelOverlap":false,"ticks":false,"labelPadding":5,"labelFontSize":13,"labelFontWeight":"bold","titleFontSize":14,"titleFontWeight":"bold","titlePadding":0}},"y":{"datum":-40,"type":"quantitative"},"y2":{"datum":-38}}},
    {"data":{"name":"xmin"},"mark":{"type":"rule","color":"#111","strokeWidth":1},"encoding":{"x":{"field":"v","type":"quantitative","title":"rₒ₋ₒ (Å)"},"y":{"datum":-40,"type":"quantitative"},"y2":{"datum":-39}}},
    {"data":{"name":"ymaj40"},"mark":{"type":"rule","color":"#111","strokeWidth":1.2},"encoding":{"y":{"field":"v","type":"quantitative","title":"Force (×10⁻⁷ N)"},"x":{"datum":0,"type":"quantitative"},"x2":{"datum":0.09}}},
    {"data":{"name":"ymin40"},"mark":{"type":"rule","color":"#111","strokeWidth":1},"encoding":{"y":{"field":"v","type":"quantitative","title":"Force (×10⁻⁷ N)"},"x":{"datum":0,"type":"quantitative"},"x2":{"datum":0.045}}},
    {"data":{"name":"vdw"},"transform":[{"fold":["m","d","u"],"as":["s","v"]},{"filter":"datum.s !== 'm'"}],"mark":{"type":"line","strokeDash":[4,3],"strokeWidth":1},"encoding":{"x":{"field":"x","type":"quantitative","title":"rₒ₋ₒ (Å)"},"y":{"field":"v","type":"quantitative","title":"Force (×10⁻⁷ N)"},"color":{"field":"s","type":"nominal","scale":{"domain":["m","d","u"],"range":["#1e7d1e","#cbe6c6","#cbe6c6"]},"legend":{"title":null,"orient":"top-left","offset":8,"padding":0,"labelLimit":400,"labelExpr":"datum.label === 'm' ? 'vdW Force' : datum.label === 'd' ? 'vdW Force from downstream' : 'vdW Force from upstream'","labelFontSize":12,"labelFontWeight":"bold","symbolSize":50,"rowPadding":5,"labelOffset":10}}}},
    {"data":{"name":"vdw"},"transform":[{"fold":["m","d","u"],"as":["s","v"]},{"filter":"datum.s !== 'm'"}],"mark":{"type":"point","filled":true,"opacity":1,"size":50},"encoding":{"x":{"field":"x","type":"quantitative","title":"rₒ₋ₒ (Å)"},"y":{"field":"v","type":"quantitative","title":"Force (×10⁻⁷ N)"},"color":{"field":"s","type":"nominal"},"shape":{"field":"s","type":"nominal","scale":{"domain":["m","d","u"],"range":["circle","square","triangle-up"]},"legend":{"title":null,"orient":"top-left","offset":8,"padding":0,"labelLimit":400,"labelExpr":"datum.label === 'm' ? 'vdW Force' : datum.label === 'd' ? 'vdW Force from downstream' : 'vdW Force from upstream'","labelFontSize":12,"labelFontWeight":"bold","symbolSize":50,"rowPadding":5,"labelOffset":10}}}},
    {"data":{"name":"vdw"},"transform":[{"fold":["m","d","u"],"as":["s","v"]},{"filter":"datum.s === 'm'"}],"mark":{"type":"line","strokeWidth":1.3},"encoding":{"x":{"field":"x","type":"quantitative","title":"rₒ₋ₒ (Å)"},"y":{"field":"v","type":"quantitative","title":"Force (×10⁻⁷ N)"},"color":{"field":"s","type":"nominal"}}},
    {"data":{"name":"vdw"},"transform":[{"fold":["m","d","u"],"as":["s","v"]},{"filter":"datum.s === 'm'"}],"mark":{"type":"point","filled":true,"opacity":1,"size":45},"encoding":{"x":{"field":"x","type":"quantitative","title":"rₒ₋ₒ (Å)"},"y":{"field":"v","type":"quantitative","title":"Force (×10⁻⁷ N)"},"color":{"field":"s","type":"nominal"},"shape":{"field":"s","type":"nominal"}}}
   ]},
   {"layer":[
    {"data":{"values":[{}]},"mark":{"type":"rect","fill":"white","stroke":"#444","strokeWidth":0.8},"encoding":{"x":{"datum":0,"type":"quantitative","scale":{"domain":[0,4.5],"range":[196,294],"nice":false,"zero":false},"axis":null},"x2":{"datum":4.5},"y":{"datum":-2,"type":"quantitative","scale":{"domain":[-2,1],"range":[232,188],"nice":false,"zero":false},"axis":null},"y2":{"datum":1}}},
    {"data":{"values":[{}]},"mark":{"type":"rule","color":"#666","strokeDash":[1.5,1.5],"strokeWidth":0.7},"encoding":{"x":{"datum":0,"type":"quantitative"},"x2":{"datum":4.5},"y":{"datum":0,"type":"quantitative"}}},
    {"data":{"name":"tv"},"mark":{"type":"line","color":"#2a8a2a","strokeWidth":0.8},"encoding":{"x":{"field":"x","type":"quantitative"},"y":{"field":"y","type":"quantitative"}}},
    {"data":{"name":"vdw"},"mark":{"type":"point","filled":true,"size":5,"color":"#2a8a2a","opacity":1},"encoding":{"x":{"field":"x","type":"quantitative"},"y":{"field":"m","type":"quantitative"}}}
   ]}
  ]},
  {"width":46,"height":252,"data":{"values":[{}]},"mark":{"type":"point","opacity":0},"encoding":{}},
  {"width":300,"height":252,"view":{"stroke":"#111","strokeWidth":1.5},"resolve":{"scale":{"x":"independent","y":"independent"},"axis":{"x":"independent","y":"independent"}},"layer":[
   {"layer":[
    {"data":{"values":[{}]},"mark":{"type":"rule","color":"#666","strokeDash":[2,2],"strokeWidth":1},"encoding":{"y":{"datum":0,"type":"quantitative","scale":{"domain":[-20,20],"nice":false,"zero":false},"axis":{"title":"Force (×10⁻⁷ N)","tickCount":8,"labelExpr":"datum.value < 0 ? '-' + abs(datum.value) : '' + datum.value","labelOverlap":false,"ticks":false,"labelPadding":3,"labelFontSize":13,"labelFontWeight":"bold","titleFontSize":14,"titleFontWeight":"bold","titlePadding":0}}}},
    {"data":{"name":"xmaj"},"mark":{"type":"rule","color":"#111","strokeWidth":1.2},"encoding":{"x":{"field":"v","type":"quantitative","title":"rₒ₋ₒ (Å)","scale":{"domain":[0,4.5],"nice":false,"zero":false},"axis":{"title":"rₒ₋ₒ (Å)","tickCount":9,"format":".1f","labelFlush":false,"labelOverlap":false,"ticks":false,"labelPadding":5,"labelFontSize":13,"labelFontWeight":"bold","titleFontSize":14,"titleFontWeight":"bold","titlePadding":0}},"y":{"datum":-20,"type":"quantitative"},"y2":{"datum":-19}}},
    {"data":{"name":"xmin"},"mark":{"type":"rule","color":"#111","strokeWidth":1},"encoding":{"x":{"field":"v","type":"quantitative","title":"rₒ₋ₒ (Å)"},"y":{"datum":-20,"type":"quantitative"},"y2":{"datum":-19.5}}},
    {"data":{"name":"ymaj20"},"mark":{"type":"rule","color":"#111","strokeWidth":1.2},"encoding":{"y":{"field":"v","type":"quantitative","title":"Force (×10⁻⁷ N)"},"x":{"datum":0,"type":"quantitative"},"x2":{"datum":0.09}}},
    {"data":{"name":"ymin20"},"mark":{"type":"rule","color":"#111","strokeWidth":1},"encoding":{"y":{"field":"v","type":"quantitative","title":"Force (×10⁻⁷ N)"},"x":{"datum":0,"type":"quantitative"},"x2":{"datum":0.045}}},
    {"data":{"name":"tot"},"transform":[{"fold":["m","d","u"],"as":["s","v"]},{"filter":"datum.s !== 'm'"}],"mark":{"type":"line","strokeDash":[4,3],"strokeWidth":1},"encoding":{"x":{"field":"x","type":"quantitative","title":"rₒ₋ₒ (Å)"},"y":{"field":"v","type":"quantitative","title":"Force (×10⁻⁷ N)"},"color":{"field":"s","type":"nominal","scale":{"domain":["m","d","u"],"range":["#e0201c","#ebcccc","#dcd3d3"]},"legend":{"title":null,"orient":"top-left","offset":8,"padding":0,"labelLimit":400,"labelExpr":"datum.label === 'm' ? 'Total Force' : datum.label === 'd' ? 'Total Force from downstream' : 'Total Force from upstream'","labelFontSize":12,"labelFontWeight":"bold","symbolSize":50,"rowPadding":5,"labelOffset":10}}}},
    {"data":{"name":"tot"},"transform":[{"fold":["m","d","u"],"as":["s","v"]},{"filter":"datum.s !== 'm'"}],"mark":{"type":"point","filled":true,"opacity":1,"size":50},"encoding":{"x":{"field":"x","type":"quantitative","title":"rₒ₋ₒ (Å)"},"y":{"field":"v","type":"quantitative","title":"Force (×10⁻⁷ N)"},"color":{"field":"s","type":"nominal"},"shape":{"field":"s","type":"nominal","scale":{"domain":["m","d","u"],"range":["circle","square","triangle-up"]},"legend":{"title":null,"orient":"top-left","offset":8,"padding":0,"labelLimit":400,"labelExpr":"datum.label === 'm' ? 'Total Force' : datum.label === 'd' ? 'Total Force from downstream' : 'Total Force from upstream'","labelFontSize":12,"labelFontWeight":"bold","symbolSize":50,"rowPadding":5,"labelOffset":10}}}},
    {"data":{"name":"tot"},"transform":[{"fold":["m","d","u"],"as":["s","v"]},{"filter":"datum.s === 'm'"}],"mark":{"type":"line","strokeWidth":1.3},"encoding":{"x":{"field":"x","type":"quantitative","title":"rₒ₋ₒ (Å)"},"y":{"field":"v","type":"quantitative","title":"Force (×10⁻⁷ N)"},"color":{"field":"s","type":"nominal"}}},
    {"data":{"name":"tot"},"transform":[{"fold":["m","d","u"],"as":["s","v"]},{"filter":"datum.s === 'm'"}],"mark":{"type":"point","filled":true,"opacity":1,"size":45},"encoding":{"x":{"field":"x","type":"quantitative","title":"rₒ₋ₒ (Å)"},"y":{"field":"v","type":"quantitative","title":"Force (×10⁻⁷ N)"},"color":{"field":"s","type":"nominal"},"shape":{"field":"s","type":"nominal"}}}
   ]},
   {"layer":[
    {"data":{"values":[{}]},"mark":{"type":"rect","fill":"white","stroke":"#444","strokeWidth":0.8},"encoding":{"x":{"datum":0,"type":"quantitative","scale":{"domain":[0,4.5],"range":[185,295],"nice":false,"zero":false},"axis":null},"x2":{"datum":4.5},"y":{"datum":-0.4,"type":"quantitative","scale":{"domain":[-0.4,2.5],"range":[234,179],"nice":false,"zero":false},"axis":null},"y2":{"datum":2.5}}},
    {"data":{"values":[{}]},"mark":{"type":"rule","color":"#666","strokeDash":[1.5,1.5],"strokeWidth":0.7},"encoding":{"x":{"datum":0,"type":"quantitative"},"x2":{"datum":4.5},"y":{"datum":0,"type":"quantitative"}}},
    {"data":{"name":"tt"},"mark":{"type":"line","color":"#c83030","strokeWidth":0.8},"encoding":{"x":{"field":"x","type":"quantitative"},"y":{"field":"y","type":"quantitative"}}},
    {"data":{"name":"tot"},"mark":{"type":"point","filled":true,"size":5,"color":"#c83030","opacity":1},"encoding":{"x":{"field":"x","type":"quantitative"},"y":{"field":"m","type":"quantitative"}}}
   ]}
  ]}
],"spacing":28,"bounds":"flush","resolve":{"scale":{"color":"independent","stroke":"independent","shape":"independent"}}}
],
"spacing":8,
"resolve":{"scale":{"color":"independent","stroke":"independent","shape":"independent"}}
}
